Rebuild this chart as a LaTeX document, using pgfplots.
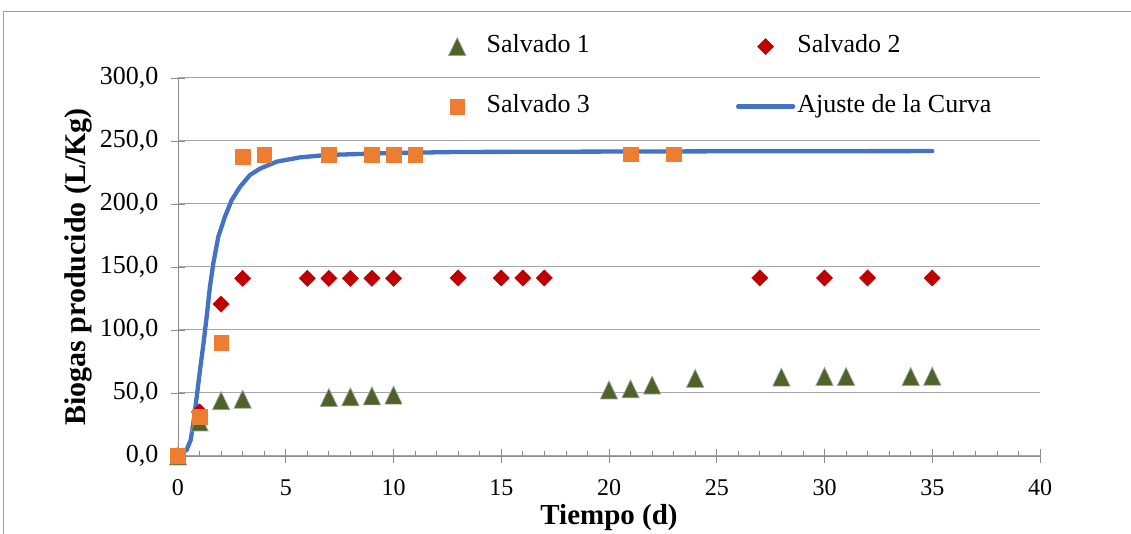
\documentclass[border=0pt]{standalone}
\usepackage{fontspec}
\setmainfont{Liberation Serif}
\usepackage{pgfplots}
\pgfplotsset{compat=1.18}
\definecolor{sOne}{HTML}{4F6228}
\definecolor{sTwo}{HTML}{C00000}
\definecolor{sThree}{HTML}{ED7D31}
\definecolor{fitc}{HTML}{4472C4}
\definecolor{gridc}{HTML}{A6A6A6}
\definecolor{axc}{HTML}{8C8C8C}
\definecolor{markedge}{HTML}{A0A0A0}
\definecolor{framec}{HTML}{A0A0A0}

\pgfplotstableread{
x y
0 0
1 27
2 43.9
3 45.1
7 46.4
8 47
9 47.7
10 48.3
20 52.4
21 53.3
22 56.3
24 61.6
28 62.6
30 63.1
31 63.1
34 63.1
35 63.3
}\salvadoA

\pgfplotstableread{
x y
0 0
1 35
2 120.6
3 141
6 141
7 141
8 141
9 141
10 141
13 141.3
15 141.3
16 141.3
17 141.3
27 141.3
30 141.3
32 141.3
35 141.3
}\salvadoB

\pgfplotstableread{
x y
0 0
1 31.2
2 90
3 237.6
4 238.9
7 239
9 239.2
10 239.2
11 239.2
21 239.4
23 239.4
}\salvadoC

\pgfplotstableread{
x y
0 0
0.06 0.8
0.40 4.8
0.59 12.7
0.71 26
0.87 47
1.02 68
1.18 89
1.33 110.5
1.48 134
1.64 153
1.87 174
2.18 190
2.49 203
2.88 213.7
3.34 223
3.80 228
4.58 233.6
5.66 237
6.90 238.9
10.0 240.5
13.1 241.3
20 241.6
25 241.8
30 241.9
35 242
}\ajuste

\begin{document}
\begin{tikzpicture}[x=1pt,y=1pt]
\begin{axis}[
  at={(0,0)}, anchor=south west,
  width=862pt, height=378pt, scale only axis,
  xmin=0, xmax=40, ymin=0, ymax=300,
  xtick={0,5,...,40}, ytick={0,50,...,300},
  minor x tick num=4,
  axis lines*=left,
  axis line style={axc, line width=0.8pt},
  tick style={axc, line width=0.8pt},
  tick align=center,
  major tick length=14pt,
  minor tick length=5pt,
  minor x tick style={yshift=2.5pt},
  ymajorgrids,
  major grid style={gridc, line width=1pt},
  clip=false,
  /pgf/number format/assume math mode=true,
  yticklabel style={font=\fontsize{26}{30}\selectfont, text=black, xshift=-9pt,
    /pgf/number format/.cd, fixed, fixed zerofill, precision=1, use comma},
  xticklabel style={font=\fontsize{24}{28}\selectfont, text=black, yshift=-13pt,
    /pgf/number format/.cd, fixed, precision=0},
  xlabel={Tiempo (d)},
  ylabel={Biogas producido (L/Kg)},
  xlabel style={font=\fontsize{29}{33}\selectfont\bfseries, at={(axis description cs:0.5,-0.163)}, anchor=center},
  ylabel style={font=\fontsize{30}{34}\selectfont\bfseries, at={(axis description cs:-0.116,0.5)}, anchor=center},
  legend columns=2,
  legend cell align=left,
  legend image code/.code={\path[draw=none, fill=none] (0pt,-6pt) (55pt,6pt);
    \draw[mark repeat=2,mark phase=2,#1] plot coordinates {(0pt,0pt) (27.5pt,0pt) (55pt,0pt)};},
  legend style={draw=none, fill=none, inner xsep=0pt, inner ysep=0pt,
    at={(axis description cs:0.2918,1.0037)}, anchor=west,
    font=\fontsize{26}{30}\selectfont,
    row sep=32pt,
    nodes={inner sep=2pt, text height=18pt, text depth=6pt},
    /tikz/column 2/.style={column sep=144pt}},
]
\addplot[fitc, line width=4.3pt, line cap=round, line join=round, forget plot] table[x=x,y=y] {\ajuste};
\addplot[only marks, mark=triangle*, mark size=10pt, line width=0.7pt,
  mark options={yshift=-3pt, yscale=1.2, fill=sOne, draw=markedge}] table[x=x,y=y] {\salvadoA};
\addlegendentry{Salvado 1}
\addplot[only marks, mark=square*, mark size=5.7pt, line width=0.5pt,
  mark options={rotate=45, fill=sTwo, draw=sTwo}] table[x=x,y=y] {\salvadoB};
\addlegendentry{Salvado 2}
\addplot[only marks, mark=square*, mark size=7.3pt, line width=0.5pt,
  mark options={fill=sThree, draw=sThree}] table[x=x,y=y] {\salvadoC};
\addlegendentry{Salvado 3}
\addlegendimage{fitc, line width=4.3pt, line cap=round}
\addlegendentry{Ajuste de la Curva}
\end{axis}
\draw[framec, line width=1pt] (-174,-90) -- (-174,444) -- (970,444);
\pgfresetboundingbox
\useasboundingbox (-178,-78) rectangle (953,456);
\end{tikzpicture}
\end{document}
